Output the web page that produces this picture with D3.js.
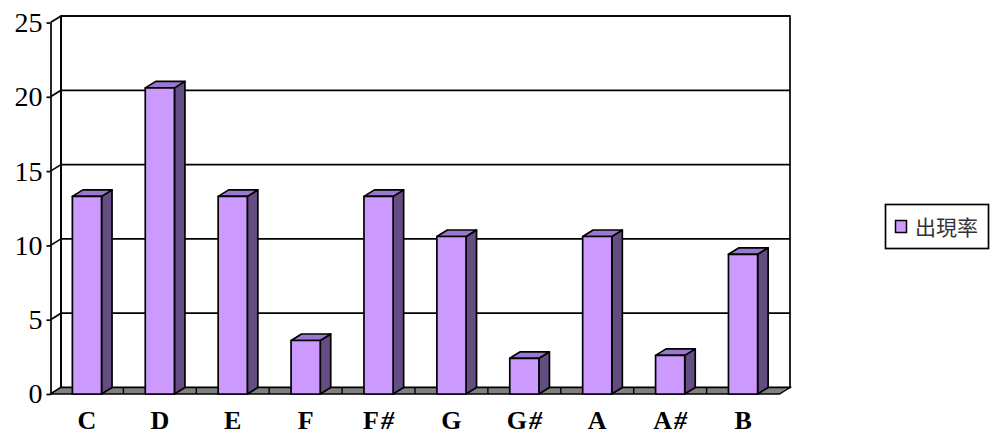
<!DOCTYPE html>
<html>
<head>
<meta charset="utf-8">
<script src="https://cdn.jsdelivr.net/npm/d3@7"></script>
<style>
  html, body { margin: 0; padding: 0; background: #fff; }
  svg { display: block; }
</style>
</head>
<body>
<svg id="chart" width="997" height="437"></svg>
<script>
// Note names and their occurrence rate (%)
const notes = ["C", "D", "E", "F", "F#", "G", "G#", "A", "A#", "B"];
const rates = [13.3, 20.6, 13.3, 3.6, 13.3, 10.6, 2.4, 10.6, 2.6, 9.4];
const yTicks = [0, 5, 10, 15, 20, 25];
const seriesName = "出現率";

const data = notes.map((n, i) => ({ note: n, rate: rates[i] }));

const svg = d3.select("#chart");

// 3D projection: front plane is offset from the back wall by (-dx, +dy)
const dx = 10.5, dy = 6.5;
const frontLeft = 50.5, frontRight = 779.5;
const backZero = 387.5, backTop = 16;

const x = d3.scaleBand()
  .domain(notes)
  .range([frontLeft, frontRight])
  .paddingInner(0.6)
  .paddingOuter(0.3);

// y on the back wall; front plane is shifted down by dy
const yBack = d3.scaleLinear().domain([0, 25]).range([backZero, backTop]);
const yFront = v => yBack(v) + dy;

const colFront = "#CC99FF", colTop = "#9B78CF", colSide = "#644D82";
const ink = "#000";

// Back wall
svg.append("rect")
  .attr("x", frontLeft + dx).attr("y", yBack(25))
  .attr("width", frontRight - frontLeft).attr("height", yBack(0) - yBack(25))
  .attr("fill", "#fff").attr("stroke", ink).attr("stroke-width", 1.7);

// Gridlines across the back wall and along the side wall
const grid = svg.append("g").attr("stroke", ink).attr("stroke-width", 1.7).attr("fill", "none");
yTicks.filter(v => v > 0).forEach(v => {
  grid.append("line")
    .attr("x1", frontLeft + dx).attr("x2", frontRight + dx)
    .attr("y1", yBack(v)).attr("y2", yBack(v));
});
yTicks.forEach(v => {
  grid.append("line")
    .attr("x1", frontLeft + dx).attr("y1", yBack(v))
    .attr("x2", frontLeft).attr("y2", yFront(v));
});
// side wall back edge
grid.append("line")
  .attr("x1", frontLeft + dx).attr("x2", frontLeft + dx)
  .attr("y1", yBack(25)).attr("y2", yBack(0));

// Floor
const floorPts = [
  [frontLeft, yFront(0)], [frontRight, yFront(0)],
  [frontRight + dx, yBack(0)], [frontLeft + dx, yBack(0)]
];
svg.append("polygon")
  .attr("points", floorPts.map(p => p.join(",")).join(" "))
  .attr("fill", "#808080").attr("stroke", ink).attr("stroke-width", 1.4);

// Floor dividers at category boundaries
const bounds = notes.slice(1).map(n => x(n) - x.step() * x.paddingInner() / 2);
svg.append("g").selectAll("line").data(bounds).join("line")
  .attr("x1", d => d).attr("x2", d => d)
  .attr("y1", yBack(0)).attr("y2", yFront(0))
  .attr("stroke", ink).attr("stroke-width", 1.4);

// Bars
const bars = svg.append("g").attr("stroke", ink).attr("stroke-width", 1.7).attr("stroke-linejoin", "round");
data.forEach(d => {
  const x0 = x(d.note), x1 = x0 + x.bandwidth();
  const yt = yFront(d.rate), yb = yFront(0);
  const g = bars.append("g");
  // side
  g.append("polygon")
    .attr("points", [[x1, yb], [x1 + dx, yb - dy], [x1 + dx, yt - dy], [x1, yt]].map(p => p.join(",")).join(" "))
    .attr("fill", colSide);
  // top
  g.append("polygon")
    .attr("points", [[x0, yt], [x1, yt], [x1 + dx, yt - dy], [x0 + dx, yt - dy]].map(p => p.join(",")).join(" "))
    .attr("fill", colTop);
  // front
  g.append("rect")
    .attr("x", x0).attr("y", yt)
    .attr("width", x.bandwidth()).attr("height", yb - yt)
    .attr("fill", colFront);
});

// Value axis on the front plane
const yAxisScale = d3.scaleLinear().domain([0, 25]).range([yFront(0), yFront(25)]);
const yAxis = svg.append("g")
  .attr("transform", `translate(${frontLeft},0)`)
  .call(d3.axisLeft(yAxisScale).tickValues(yTicks).tickSize(4).tickSizeOuter(0).tickPadding(4));
yAxis.select(".domain").attr("stroke", ink).attr("stroke-width", 1.7);
yAxis.selectAll(".tick line").attr("stroke", ink).attr("stroke-width", 1.7);
yAxis.selectAll("text")
  .attr("font-family", "'Liberation Serif', 'Times New Roman', serif")
  .attr("font-size", 28).attr("fill", ink);

// Category axis labels
const xAxis = svg.append("g")
  .attr("transform", `translate(0,${yFront(0)})`)
  .call(d3.axisBottom(x).tickSize(0).tickPadding(17));
xAxis.select(".domain").remove();
xAxis.selectAll(".tick text")
  .attr("font-family", "'Liberation Serif', 'Times New Roman', serif")
  .attr("font-size", 26).attr("font-weight", "bold").attr("fill", ink)
  .each(function (d) {
    const t = d3.select(this);
    if (d.includes("#")) {
      t.text(d.replace("#", ""));
      t.append("tspan").attr("dx", 2).attr("font-style", "italic").text("#");
    }
  });

// Legend
const legend = svg.append("g");
legend.append("rect")
  .attr("x", 885.5).attr("y", 204.5).attr("width", 103).attr("height", 44)
  .attr("fill", "#fff").attr("stroke", ink).attr("stroke-width", 1.7);
legend.append("rect")
  .attr("x", 895.5).attr("y", 220.5).attr("width", 11).attr("height", 12)
  .attr("fill", colFront).attr("stroke", ink).attr("stroke-width", 1.5);
legend.append("text")
  .attr("x", 915).attr("y", 235)
  .attr("font-family", "'Noto Sans CJK TC', 'Noto Sans CJK SC', sans-serif")
  .attr("font-size", 21).attr("fill", "#333")
  .text(seriesName);
</script>
</body>
</html>
